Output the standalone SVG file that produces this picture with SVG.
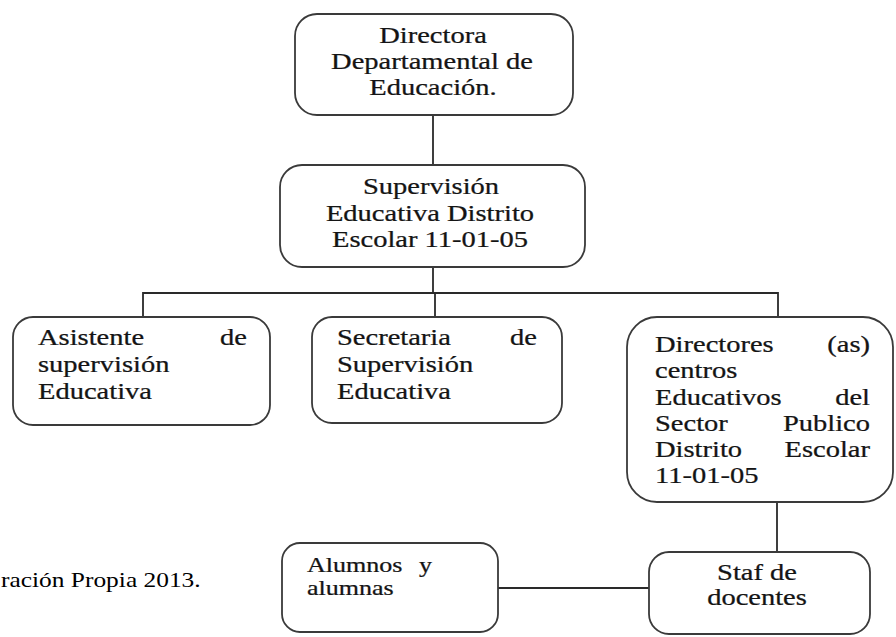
<svg xmlns="http://www.w3.org/2000/svg" width="896" height="637" viewBox="0 0 896 637">
<style>
.box{fill:#ffffff;stroke:#3a3a3a;stroke-width:1.8}
.t{font-size:23px;fill:#141414;stroke:#141414;stroke-width:0.25}
.s{font-size:21px}
.m{text-anchor:middle}
.e{text-anchor:end}
.cap{font-size:20.5px;fill:#000}
.ln{stroke:#2a2a2a;stroke-width:1.8;fill:none}
</style>
<rect width="896" height="637" fill="#ffffff"/>
<g id="connectors">
<line class="ln" x1="433" y1="115" x2="433" y2="165"/>
<line class="ln" x1="433" y1="267" x2="433" y2="293"/>
<polyline class="ln" points="143,317 143,293 778,293 778,317"/>
<line class="ln" x1="435" y1="293" x2="435" y2="317"/>
<line class="ln" x1="777" y1="502" x2="777" y2="552"/>
<line class="ln" x1="498" y1="588" x2="649" y2="588"/>
</g>
<g id="n-directora" font-family="Liberation Serif">
<rect class="box" x="295" y="14" width="278" height="101" rx="22"/>
<text class="t m" transform="translate(433,43) scale(1.24,1)">Directora</text>
<text class="t m" transform="translate(432,69) scale(1.24,1)">Departamental de</text>
<text class="t m" transform="translate(433,95) scale(1.24,1)">Educación.</text>
</g>
<g id="n-supervision" font-family="Liberation Serif">
<rect class="box" x="280" y="165" width="305" height="102" rx="22"/>
<text class="t m" transform="translate(431,194) scale(1.24,1)">Supervisión</text>
<text class="t m" transform="translate(430,221) scale(1.24,1)">Educativa Distrito</text>
<text class="t m" transform="translate(430,247) scale(1.24,1)">Escolar 11-01-05</text>
</g>
<g id="n-asistente" font-family="Liberation Serif">
<rect class="box" x="13" y="317" width="257" height="108" rx="20"/>
<text class="t" transform="translate(38,345) scale(1.24,1)">Asistente</text>
<text class="t e" transform="translate(247,345) scale(1.24,1)">de</text>
<text class="t" transform="translate(38,372) scale(1.24,1)">supervisión</text>
<text class="t" transform="translate(38,399) scale(1.24,1)">Educativa</text>
</g>
<g id="n-secretaria" font-family="Liberation Serif">
<rect class="box" x="312" y="317" width="250" height="106" rx="20"/>
<text class="t" transform="translate(337,345) scale(1.24,1)">Secretaria</text>
<text class="t e" transform="translate(537,345) scale(1.24,1)">de</text>
<text class="t" transform="translate(337,372) scale(1.24,1)">Supervisión</text>
<text class="t" transform="translate(337,399) scale(1.24,1)">Educativa</text>
</g>
<g id="n-directores" font-family="Liberation Serif">
<rect class="box" x="627" y="317" width="266" height="185" rx="30"/>
<text class="t" transform="translate(655,352) scale(1.24,1)">Directores</text>
<text class="t e" transform="translate(870,352) scale(1.24,1)">(as)</text>
<text class="t" transform="translate(655,378) scale(1.24,1)">centros</text>
<text class="t" transform="translate(655,405) scale(1.24,1)">Educativos</text>
<text class="t e" transform="translate(870,405) scale(1.24,1)">del</text>
<text class="t" transform="translate(655,431) scale(1.24,1)">Sector</text>
<text class="t e" transform="translate(870,431) scale(1.24,1)">Publico</text>
<text class="t" transform="translate(655,457) scale(1.24,1)">Distrito</text>
<text class="t e" transform="translate(870,457) scale(1.24,1)">Escolar</text>
<text class="t" transform="translate(655,483) scale(1.24,1)">11-01-05</text>
</g>
<g id="n-staf" font-family="Liberation Serif">
<rect class="box" x="649" y="552" width="221" height="82" rx="20"/>
<text class="t m" transform="translate(757,580) scale(1.24,1)">Staf de</text>
<text class="t m" transform="translate(757,605) scale(1.24,1)">docentes</text>
</g>
<g id="n-alumnos" font-family="Liberation Serif">
<rect class="box" x="282" y="543" width="216" height="89" rx="18"/>
<text class="t s" transform="translate(307,572) scale(1.24,1)">Alumnos</text>
<text class="t s e" transform="translate(432,572) scale(1.24,1)">y</text>
<text class="t s" transform="translate(307,595) scale(1.24,1)">alumnas</text>
</g>
<text class="cap" font-family="Liberation Serif" transform="translate(1,587) scale(1.24,1)">ración Propia 2013.</text>
</svg>
